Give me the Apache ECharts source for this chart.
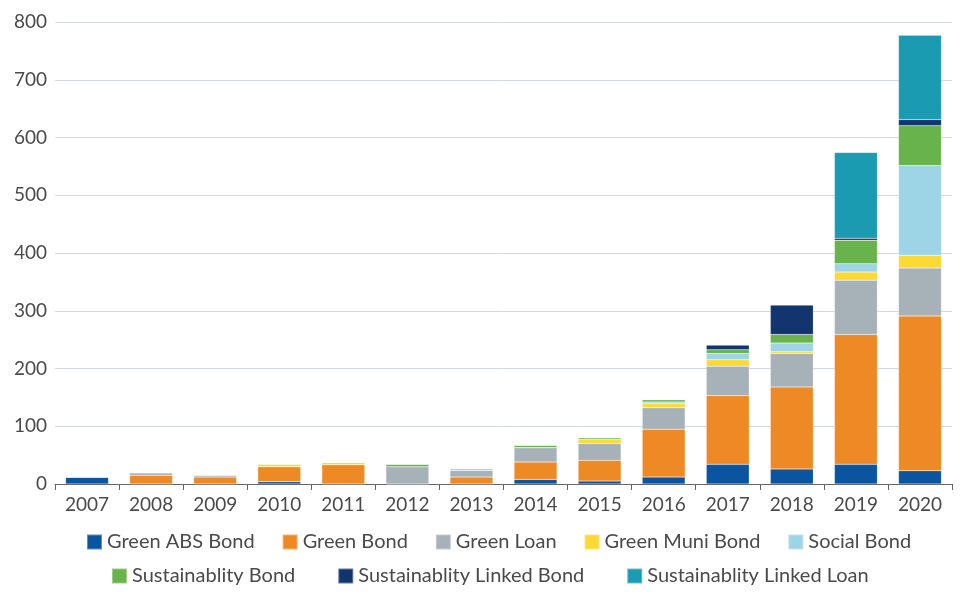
<!DOCTYPE html>
<html><head><meta charset="utf-8">
<script src="https://cdn.jsdelivr.net/npm/echarts@6/dist/echarts.min.js"></script>
<style>html,body{margin:0;padding:0;background:#fff}#c{width:960px;height:592px}</style>
</head><body><div id="c"></div>
<script>
const years = ['2007','2008','2009','2010','2011','2012','2013','2014','2015','2016','2017','2018','2019','2020'];
const seriesNames = ['Green ABS Bond','Green Bond','Green Loan','Green Muni Bond','Social Bond','Sustainablity Bond','Sustainablity Linked Bond','Sustainablity Linked Loan'];
const greenABS      = [12, 0, 0, 4, 0, 0, 0, 8, 5, 12, 34, 26, 34, 23];
const greenBond     = [0, 15, 12, 26, 33.5, 0, 12, 30, 36, 83, 119, 142, 225, 268];
const greenLoan     = [0, 4.5, 3.5, 0, 0, 30, 11.5, 25, 29, 37, 51, 58, 94, 83];
const greenMuni     = [0, 0, 0, 4.5, 4, 0, 0, 0, 7, 7, 11, 3, 14, 22];
const socialBond    = [0, 0, 0, 0, 0, 0, 3.5, 0, 0, 3, 11, 15, 14.5, 155.5];
const sustBond      = [0, 0, 0, 0, 0, 4, 0, 4, 3, 4, 6.5, 15, 40.5, 69];
const sustLinkBond  = [0, 0, 0, 0, 0, 0, 0, 0, 0, 0, 8, 51, 3.5, 10.5];
const sustLinkLoan  = [0, 0, 0, 0, 0, 0, 0, 0, 0, 0, 0, 0, 148.5, 146];
const yTicks = [0, 100, 200, 300, 400, 500, 600, 700, 800];

const colors = ['#0b55a0','#ee8a26','#a7b1b8','#fdd935','#9dd4e6','#68b34b','#123570','#1a9bb1'];
const values = [greenABS, greenBond, greenLoan, greenMuni, socialBond, sustBond, sustLinkBond, sustLinkLoan];

const chart = echarts.init(document.getElementById('c'));
const font = 'Lato, "Open Sans", sans-serif';
const legendText = {fontFamily: font, fontSize: 20, color: '#4a4a4a'};
chart.setOption({
  animation: false,
  color: colors,
  grid: {left: 55, right: 8, top: 22, bottom: 108, containLabel: false},
  legend: [
    {data: seriesNames.slice(0,5), top: 527, left: 81, itemWidth: 15, itemHeight: 15, itemGap: 27,
     icon: 'rect', textStyle: legendText},
    {data: seriesNames.slice(5), top: 561, left: 106, itemWidth: 15, itemHeight: 15, itemGap: 42,
     icon: 'rect', textStyle: legendText}
  ],
  xAxis: {
    type: 'category', data: years, boundaryGap: true,
    axisLine: {lineStyle: {color: '#666', width: 1}},
    axisTick: {show: true, length: 6, lineStyle: {color: '#666'}},
    axisLabel: {fontFamily: font, fontSize: 19, color: '#4a4a4a', margin: 11}
  },
  yAxis: {
    type: 'value', min: 0, max: 800, interval: 100,
    axisLine: {show: false}, axisTick: {show: false},
    splitLine: {lineStyle: {color: '#d3d9de', width: 1}},
    axisLabel: {fontFamily: font, fontSize: 19, color: '#4a4a4a', margin: 8,
      formatter: v => yTicks.includes(v) ? String(v) : ''}
  },
  series: seriesNames.map((n, i) => ({
    name: n, type: 'bar', stack: 'total', barWidth: '67%',
    data: values[i],
    itemStyle: {color: colors[i], borderColor: 'rgba(255,255,255,0.35)', borderWidth: 0.5}
  }))
});
</script></body></html>
